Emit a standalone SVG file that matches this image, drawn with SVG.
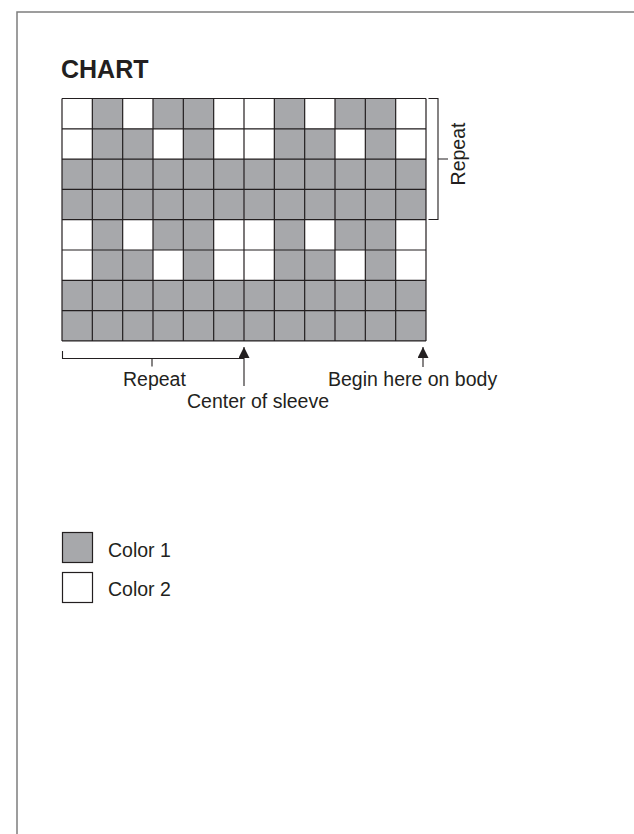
<svg xmlns="http://www.w3.org/2000/svg" width="634" height="834" viewBox="0 0 634 834">
<style>
.t{font-family:"Liberation Sans",Arial,sans-serif;font-size:19.5px;fill:#231f20}
.title{font-family:"Liberation Sans",Arial,sans-serif;font-size:25px;font-weight:bold;fill:#231f20}
.g{fill:#a7a8ab}
.w{fill:#ffffff}
.ln{fill:none;stroke:#231f20;stroke-width:1.2}
.cn{fill:none;stroke:#231f20;stroke-width:1.1}
</style>
<defs>
<marker id="ah" markerUnits="userSpaceOnUse" markerWidth="12" markerHeight="11" refX="11" refY="5.5" orient="auto">
<path d="M0,0 L11,5.5 L0,11 z" fill="#231f20"/>
</marker>
</defs>
<rect width="634" height="834" fill="#ffffff"/>
<path d="M17,834 V12 H634" fill="none" stroke="#7d7d7d" stroke-width="1.5"/>
<g id="title"><text class="title" x="61" y="77.5">CHART</text></g>
<g id="chart">
<rect class="g" x="62" y="98.5" width="364" height="242.4"/>
<g class="w">
<rect x="62" y="98.5" width="30.33" height="30.3"/>
<rect x="122.67" y="98.5" width="30.33" height="30.3"/>
<rect x="213.67" y="98.5" width="30.33" height="30.3"/>
<rect x="244" y="98.5" width="30.33" height="30.3"/>
<rect x="304.67" y="98.5" width="30.33" height="30.3"/>
<rect x="395.67" y="98.5" width="30.33" height="30.3"/>
<rect x="62" y="128.8" width="30.33" height="30.3"/>
<rect x="153" y="128.8" width="30.33" height="30.3"/>
<rect x="213.67" y="128.8" width="30.33" height="30.3"/>
<rect x="244" y="128.8" width="30.33" height="30.3"/>
<rect x="335" y="128.8" width="30.33" height="30.3"/>
<rect x="395.67" y="128.8" width="30.33" height="30.3"/>
<rect x="62" y="219.7" width="30.33" height="30.3"/>
<rect x="122.67" y="219.7" width="30.33" height="30.3"/>
<rect x="213.67" y="219.7" width="30.33" height="30.3"/>
<rect x="244" y="219.7" width="30.33" height="30.3"/>
<rect x="304.67" y="219.7" width="30.33" height="30.3"/>
<rect x="395.67" y="219.7" width="30.33" height="30.3"/>
<rect x="62" y="250" width="30.33" height="30.3"/>
<rect x="153" y="250" width="30.33" height="30.3"/>
<rect x="213.67" y="250" width="30.33" height="30.3"/>
<rect x="244" y="250" width="30.33" height="30.3"/>
<rect x="335" y="250" width="30.33" height="30.3"/>
<rect x="395.67" y="250" width="30.33" height="30.3"/>
</g>
<path class="ln" d="M62,98.5 V340.9 M92.33,98.5 V340.9 M122.67,98.5 V340.9 M153,98.5 V340.9 M183.33,98.5 V340.9 M213.67,98.5 V340.9 M244,98.5 V340.9 M274.33,98.5 V340.9 M304.67,98.5 V340.9 M335,98.5 V340.9 M365.33,98.5 V340.9 M395.67,98.5 V340.9 M426,98.5 V340.9 M62,98.5 H426 M62,128.8 H426 M62,159.1 H426 M62,189.4 H426 M62,219.7 H426 M62,250 H426 M62,280.3 H426 M62,310.6 H426 M62,340.9 H426"/>
</g>
<g id="connectors">
<path class="cn" d="M428.5,98.5 H438 V219.5 H428.5 M438,159 H448"/>
<path class="cn" d="M62.5,351 V358.5 H244 M152,358.5 V366.5"/>
<path class="cn" d="M244,386 V347" marker-end="url(#ah)"/>
<path class="cn" d="M423,367 V347" marker-end="url(#ah)"/>
</g>
<g id="label-repeat-side"><text class="t" text-anchor="middle" transform="translate(465,154) rotate(-90)">Repeat</text></g>
<g id="label-repeat-bottom"><text class="t" x="123" y="386">Repeat</text></g>
<g id="label-center"><text class="t" x="187" y="408">Center of sleeve</text></g>
<g id="label-begin"><text class="t" x="328" y="386">Begin here on body</text></g>
<g id="legend-color1">
<rect x="62.5" y="532.5" width="30" height="30" fill="#a7a8ab" stroke="#231f20" stroke-width="1.2"/>
<text class="t" x="108" y="556.5">Color 1</text>
</g>
<g id="legend-color2">
<rect x="62.5" y="572.5" width="30" height="30" fill="#ffffff" stroke="#231f20" stroke-width="1.2"/>
<text class="t" x="108" y="595.5">Color 2</text>
</g>
</svg>
